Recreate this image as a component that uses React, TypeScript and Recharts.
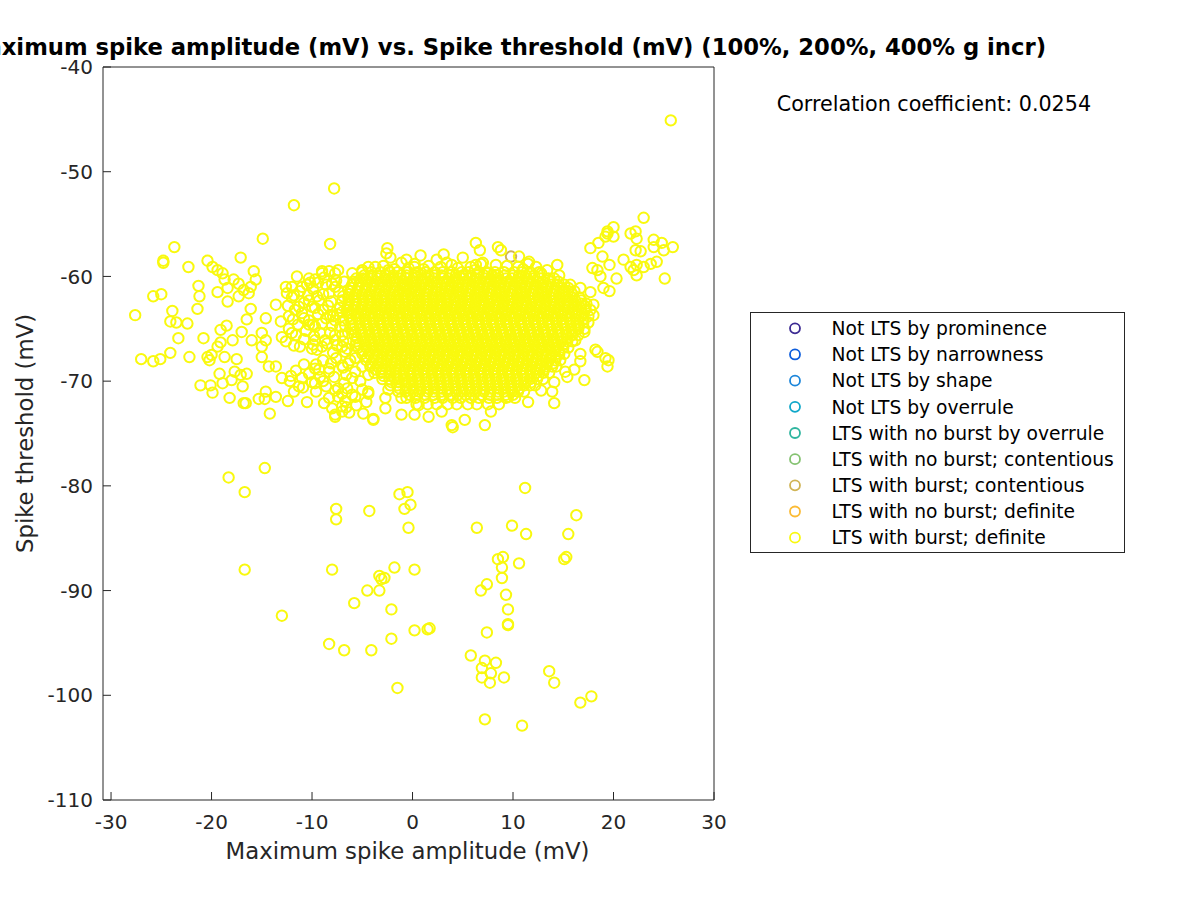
import React from 'react';
import { ScatterChart, Scatter, XAxis, YAxis } from 'recharts';

const FONT = '"DejaVu Sans", sans-serif';
const AXIS_COLOR = '#262626';

const categoryNames = [
  'Not LTS by prominence',
  'Not LTS by narrowness',
  'Not LTS by shape',
  'Not LTS by overrule',
  'LTS with no burst by overrule',
  'LTS with no burst; contentious',
  'LTS with burst; contentious',
  'LTS with no burst; definite',
  'LTS with burst; definite',
];
const categoryColors = [
  '#3c2a92', '#0d5ddc', '#1c86da', '#0ea7c9', '#2fb59f',
  '#84c270', '#d0b455', '#fbbb35', '#f9f90e',
];

const xTicks = [-30, -20, -10, 0, 10, 20, 30];
const yTicks = [-110, -100, -90, -80, -70, -60, -50, -40];

// [amplitude, threshold] pairs, read point by point where the rings are separate
const farPts: [number, number][] = [
  [25.7, -45.1], [-7.8, -51.6], [-11.8, -53.2], [23.0, -54.4],
];

const upperRightPts: [number, number][] = [
  [17.7, -57.3], [18.5, -56.8], [19.4, -55.9], [20.0, -55.3], [20.0, -56.2], [18.4, -59.4], [19.6, -58.9],
  [20.3, -60.2], [19.0, -61.1], [19.6, -61.4], [21.7, -55.9], [22.2, -55.7], [22.3, -56.4], [24.0, -56.5],
  [24.8, -56.8], [25.9, -57.2], [22.2, -57.5], [22.7, -57.6], [24.0, -57.2], [25.0, -57.5], [21.0, -58.4],
  [21.7, -59.1], [22.3, -58.9], [23.0, -59.1], [23.7, -58.8], [24.3, -58.6], [22.3, -59.9], [22.0, -59.4],
  [25.1, -60.2], [17.9, -59.2], [18.9, -58.1], [19.2, -56.2], [19.4, -55.7], [18.7, -60.0],
];

const leftPts: [number, number][] = [
  [-14.9, -56.4], [-8.2, -56.9], [-23.7, -57.2], [-24.8, -58.5], [-24.8, -58.7], [-22.3, -59.1], [-20.4, -58.5],
  [-17.1, -58.2], [-15.8, -59.5], [-15.6, -60.3], [-27.6, -63.7], [-25.8, -61.9], [-25.0, -61.7], [-23.9, -63.3],
  [-24.1, -64.3], [-23.5, -64.4], [-22.4, -64.5], [-23.3, -65.9], [-21.4, -63.1], [-21.2, -61.9], [-21.3, -60.9],
  [-20.8, -65.9], [-27.0, -67.9], [-25.8, -68.1], [-25.1, -67.9], [-24.1, -67.3], [-22.2, -67.7], [-21.1, -70.4],
  [-20.1, -70.4], [-19.9, -71.1], [-19.1, -65.1], [-18.5, -64.7], [-20.4, -67.7], [-20.2, -68.0], [-20.0, -67.5],
  [-19.4, -66.7], [-19.1, -66.3], [-19.2, -69.3], [-18.9, -70.2], [-18.2, -71.6], [-18.0, -69.9], [-17.7, -69.1],
  [-17.1, -69.4], [-16.8, -72.1], [-16.6, -72.1], [-16.5, -69.3], [-16.9, -70.5], [-17.5, -67.9], [-18.7, -67.7],
  [-17.9, -66.1], [-17.0, -65.3], [-16.5, -64.1], [-16.1, -63.1], [-16.0, -66.1], [-15.3, -71.7], [-14.6, -71.0],
  [-14.7, -71.7], [-14.2, -73.1], [-13.6, -71.5], [-12.4, -71.9], [-11.3, -70.5], [-13.0, -69.7], [-12.1, -69.5],
  [-11.0, -69.7], [-15.0, -67.7], [-15.0, -66.7], [-14.6, -66.1], [-15.0, -65.4], [-14.6, -64.0], [-14.3, -68.6],
  [-13.6, -68.6], [-13.6, -62.7], [-13.1, -64.3], [-13.0, -65.8], [-12.6, -66.2], [-12.0, -65.4], [-11.8, -66.6],
  [-11.2, -66.7], [-19.9, -59.1], [-19.4, -59.4], [-18.9, -59.7], [-18.7, -60.3], [-19.4, -61.5], [-18.4, -61.1],
  [-17.8, -60.3], [-17.3, -60.7], [-18.4, -62.4], [-17.3, -61.9], [-16.3, -61.6], [-16.1, -61.0], [-16.8, -61.3],
  [-12.5, -61.6], [-12.0, -61.0], [-11.0, -61.0], [-10.3, -60.2], [-9.7, -60.3], [-9.0, -59.7], [-8.3, -59.5],
  [-7.7, -59.7], [-6.4, -63.5], [-12.3, -63.8], [-11.7, -63.2], [-11.0, -63.5], [-10.3, -64.2], [-9.7, -64.8],
  [-9.0, -64.5], [-7.7, -64.2], [-10.3, -62.3], [-9.3, -62.3], [-8.3, -61.6], [-7.0, -62.3], [-7.7, -61.0],
  [-6.4, -61.3], [-9.7, -66.1], [-9.0, -66.7], [-7.7, -66.1], [-6.4, -65.4], [-7.0, -66.7], [-10.3, -69.3],
  [-9.3, -68.9], [-8.3, -68.8], [-9.7, -70.2], [-7.7, -70.9], [-7.0, -71.2], [-7.0, -72.4], [-7.7, -73.4],
  [-5.7, -71.5], [-3.9, -73.7], [-2.7, -72.6], [-4.4, -71.2], [-2.4, -70.8], [-6.4, -68.3], [-5.0, -68.6],
  [-5.0, -59.4], [-3.7, -59.1], [-2.4, -59.4], [-1.1, -58.7], [0.2, -59.1], [-2.5, -57.3], [-2.6, -57.8],
  [-2.2, -58.2], [-11.5, -60.0], [-10.2, -60.6], [-8.8, -60.1], [-7.6, -60.4], [-12.6, -61.0], [-11.2, -61.4],
  [-9.9, -61.2], [-8.6, -60.8], [-7.3, -61.5], [-12.0, -62.0], [-10.8, -62.5], [-9.5, -61.9], [-8.1, -62.4],
  [-7.2, -63.0], [-11.3, -62.9], [-8.9, -63.2], [-7.5, -63.6], [-11.9, -64.1], [-10.8, -64.0], [-8.6, -64.0],
  [-7.2, -64.8], [-12.3, -65.0], [-10.6, -65.2], [-9.2, -65.4], [-7.0, -65.6], [-10.8, -66.0], [-8.5, -66.4],
  [-6.9, -66.2], [-9.5, -67.0], [-7.9, -67.3], [-6.5, -66.9], [-8.9, -68.0], [-7.6, -67.8], [-6.2, -68.0],
  [-11.6, -69.0], [-10.8, -68.4], [-6.6, -69.4], [-12.2, -70.0], [-8.9, -70.0], [-6.8, -70.2], [-5.2, -70.0],
  [-11.8, -71.0], [-9.6, -71.0], [-8.3, -71.6], [-5.0, -70.8], [-10.5, -72.0], [-8.8, -72.1], [-5.6, -72.3],
  [-4.6, -72.0], [-6.3, -73.0], [-4.9, -73.1], [-9.4, -60.6], [-8.0, -60.7], [-6.8, -60.5], [-11.8, -61.8],
  [-10.4, -61.8], [-8.9, -61.7], [-6.9, -61.9], [-12.4, -62.8], [-10.0, -62.9], [-8.4, -62.8], [-7.0, -63.4],
  [-9.4, -63.6], [-8.2, -63.7], [-6.9, -64.2], [-11.4, -64.6], [-9.9, -64.6], [-8.0, -64.7], [-6.7, -64.7],
  [-11.6, -65.6], [-9.8, -65.7], [-8.2, -65.4], [-9.9, -66.5], [-7.5, -66.6], [-9.6, -68.4], [-8.1, -68.3],
  [-6.9, -68.7], [-9.2, -69.6], [-7.8, -69.6], [-6.0, -69.7], [-10.9, -70.6], [-8.6, -70.5], [-6.5, -70.7],
  [-7.4, -71.5], [-6.7, -71.9], [-8.0, -72.6], [-6.6, -72.5],
];

const edgePts: [number, number][] = [
  [-0.6, -58.4], [0.2, -58.8], [2.4, -58.4], [3.4, -58.7], [4.5, -59.2], [0.8, -58.0], [1.6, -59.0], [3.1, -57.9],
  [-1.8, -59.3], [5.0, -58.2], [-7.9, -63.8], [-7.7, -65.6], [-8.7, -66.1], [-10.0, -66.9], [-10.3, -64.6],
  [-9.7, -63.0], [-10.5, -60.8], [-9.0, -59.5], [-7.4, -59.4], [-6.0, -59.7], [-4.4, -59.1], [-4.7, -60.3],
  [-6.0, -65.0], [-5.7, -66.6], [-6.7, -67.2], [-5.7, -67.8], [-9.7, -68.8], [-8.3, -69.1], [-7.0, -68.5],
  [-5.7, -69.1], [-4.4, -69.4], [-3.1, -69.1], [-1.8, -69.7], [-0.4, -70.1], [-10.0, -70.1], [-7.4, -70.7],
  [-6.0, -71.3], [-4.4, -71.0], [-2.7, -71.6], [-1.1, -71.6], [0.6, -72.3], [-7.7, -73.2], [-7.0, -72.9],
  [-3.9, -73.6], [-1.1, -73.2], [0.2, -73.2], [1.6, -73.4], [2.9, -72.9], [3.9, -74.2], [6.3, -56.8],
  [6.7, -57.5], [8.5, -57.2], [8.8, -57.5], [10.6, -58.1], [11.6, -58.6], [10.5, -59.1], [6.3, -58.9],
  [7.0, -58.7], [5.3, -59.9], [7.5, -59.7], [12.8, -59.7], [14.4, -58.9], [14.6, -59.9], [15.7, -60.8],
  [16.7, -61.1], [17.7, -61.5], [18.0, -62.7], [18.0, -63.7], [17.1, -65.3], [16.2, -66.1], [16.7, -67.4],
  [16.7, -68.1], [15.2, -69.1], [17.1, -69.9], [14.1, -70.1], [13.9, -71.0], [14.1, -72.1], [11.5, -72.0],
  [7.8, -72.9], [7.2, -74.2], [18.4, -67.2], [19.2, -67.8], [19.4, -68.6], [4.0, -74.4], [5.2, -73.7],
  [9.5, -71.5], [12.8, -70.9], [15.4, -69.6], [16.1, -68.9], [18.2, -67.0], [19.5, -68.0], [11.5, -58.8],
  [6.8, -58.8], [7.4, -59.7], [6.2, -59.4], [-2.9, -59.0], [-0.4, -59.2], [1.1, -59.3], [2.8, -59.1],
  [3.9, -58.9], [5.8, -59.1], [8.3, -58.9], [9.4, -59.0], [11.0, -59.3], [12.3, -59.1], [13.4, -59.4],
];

const lowerPts: [number, number][] = [
  [-18.3, -79.2], [-14.7, -78.3], [-16.7, -80.6], [-7.6, -82.2], [-7.6, -83.2], [-4.3, -82.4], [-1.3, -80.8],
  [-0.5, -80.6], [-0.2, -81.8], [-0.8, -82.2], [-0.4, -84.0], [11.2, -80.2], [16.3, -82.8], [15.5, -84.6],
  [6.4, -84.0], [9.9, -83.8], [11.3, -84.6], [-16.7, -88.0], [-8.0, -88.0], [-1.8, -87.8], [0.2, -88.0],
  [-3.3, -88.6], [-2.8, -88.8], [-3.1, -88.9], [-4.5, -90.0], [-3.3, -90.0], [-5.8, -91.2], [-2.1, -91.8],
  [-13.0, -92.4], [0.2, -93.8], [1.5, -93.7], [1.7, -93.6], [-2.1, -94.6], [-8.3, -95.1], [-6.8, -95.7],
  [-4.1, -95.7], [-1.5, -99.3], [8.5, -87.0], [9.0, -86.8], [8.9, -87.8], [8.9, -88.8], [10.6, -87.4],
  [15.1, -87.0], [15.3, -86.8], [6.8, -90.0], [7.4, -89.4], [9.3, -90.4], [9.5, -91.8], [9.5, -93.2],
  [9.5, -93.3], [7.4, -94.0], [5.8, -96.2], [7.2, -96.7], [8.3, -96.9], [6.9, -97.4], [7.8, -97.9],
  [6.9, -98.3], [7.7, -98.8], [9.1, -98.3], [13.6, -97.7], [14.1, -98.8], [16.7, -100.7], [17.8, -100.1],
  [7.2, -102.3], [10.9, -102.9],
];

// dense core: rings overlap into a solid block, so it is read row by row (threshold -> amplitudes)
const coreThr = [
  -59.6, -60.2, -60.8, -61.4, -62.0, -62.6, -63.2, -63.8, -64.4, -65.0, -65.6,
  -66.2, -66.8, -67.4, -68.0, -68.6, -69.2, -69.8, -70.4, -71.0, -71.6, -72.2,
];
const coreAmp: number[][] = [
  [-5.0, -4.1, -3.2, -2.3, -1.5, -0.5, 0.5, 1.3, 2.2, 3.0, 3.9, 4.9, 5.6, 6.6, 7.4, 8.2, 9.1, 10.1, 10.9, 11.7, 12.6],
  [-5.6, -4.9, -4.1, -3.4, -2.7, -1.9, -1.3, -0.6, 0.1, 0.9, 1.5, 2.2, 3.0, 3.6, 4.3, 5.1, 5.7, 6.4, 7.2, 7.8, 8.5, 9.3, 9.9, 10.6, 11.4, 12.0, 12.7, 13.5, 14.1],
  [-6.0, -5.3, -4.5, -3.8, -3.0, -2.4, -1.7, -0.9, -0.3, 0.4, 1.2, 1.8, 2.5, 3.3, 3.9, 4.6, 5.4, 6.0, 6.7, 7.5, 8.1, 8.8, 9.6, 10.2, 10.9, 11.7, 12.3, 13.0, 13.8, 14.4, 15.1],
  [-6.2, -5.5, -4.7, -4.1, -3.3, -2.7, -1.9, -1.3, -0.6, 0.2, 0.8, 1.5, 2.3, 2.9, 3.6, 4.4, 5.0, 5.7, 6.5, 7.1, 7.8, 8.6, 9.2, 9.9, 10.7, 11.3, 12.0, 12.8, 13.4, 14.1, 14.9, 15.5, 16.1],
  [-6.4, -5.8, -5.0, -4.4, -3.6, -3.0, -2.2, -1.6, -0.9, -0.1, 0.5, 1.2, 2.0, 2.6, 3.3, 4.1, 4.7, 5.4, 6.2, 6.8, 7.5, 8.3, 8.9, 9.6, 10.4, 11.0, 11.7, 12.5, 13.1, 13.8, 14.6, 15.2, 15.9, 16.6],
  [-6.4, -5.6, -4.9, -4.1, -3.5, -2.7, -2.1, -1.3, -0.7, 0.1, 0.7, 1.5, 2.1, 2.9, 3.5, 4.3, 4.9, 5.7, 6.3, 7.1, 7.7, 8.5, 9.1, 9.9, 10.5, 11.3, 11.9, 12.7, 13.3, 14.1, 14.7, 15.5, 16.1, 16.8, 17.3],
  [-6.5, -5.9, -5.1, -4.5, -3.7, -3.1, -2.3, -1.7, -0.9, -0.3, 0.5, 1.1, 1.9, 2.5, 3.3, 3.9, 4.7, 5.3, 6.1, 6.7, 7.5, 8.1, 8.9, 9.5, 10.3, 10.9, 11.7, 12.3, 13.1, 13.7, 14.5, 15.1, 15.9, 16.5, 17.2, 17.7],
  [-6.3, -5.6, -4.8, -4.2, -3.4, -2.8, -2.0, -1.4, -0.6, 0.0, 0.8, 1.4, 2.2, 2.8, 3.6, 4.2, 5.0, 5.6, 6.4, 7.0, 7.8, 8.4, 9.2, 9.8, 10.6, 11.2, 12.0, 12.6, 13.4, 14.0, 14.8, 15.4, 16.2, 16.8, 17.5],
  [-6.1, -5.3, -4.7, -3.9, -3.3, -2.5, -1.9, -1.1, -0.5, 0.3, 0.9, 1.7, 2.3, 3.1, 3.7, 4.5, 5.1, 5.9, 6.5, 7.3, 7.9, 8.7, 9.3, 10.1, 10.7, 11.5, 12.1, 12.9, 13.5, 14.3, 14.9, 15.7, 16.3, 17.0, 17.5],
  [-6.0, -5.2, -4.4, -3.8, -3.0, -2.4, -1.6, -1.0, -0.2, 0.4, 1.2, 1.8, 2.6, 3.2, 4.0, 4.6, 5.4, 6.0, 6.8, 7.4, 8.2, 8.8, 9.6, 10.2, 11.0, 11.6, 12.4, 13.0, 13.8, 14.4, 15.2, 15.8, 16.5, 17.1],
  [-5.8, -5.1, -4.3, -3.7, -2.9, -2.3, -1.5, -0.9, -0.1, 0.5, 1.3, 1.9, 2.7, 3.3, 4.1, 4.7, 5.5, 6.1, 6.9, 7.5, 8.3, 8.9, 9.7, 10.3, 11.1, 11.7, 12.5, 13.1, 13.9, 14.5, 15.3, 15.9, 16.5],
  [-5.6, -4.8, -4.2, -3.4, -2.8, -2.0, -1.4, -0.6, 0.0, 0.8, 1.4, 2.2, 2.8, 3.6, 4.2, 5.0, 5.6, 6.4, 7.0, 7.8, 8.4, 9.2, 9.8, 10.6, 11.2, 12.0, 12.6, 13.4, 14.0, 14.8, 15.4, 15.9],
  [-5.4, -4.6, -3.9, -3.1, -2.5, -1.7, -1.1, -0.3, 0.3, 1.1, 1.7, 2.5, 3.1, 3.9, 4.5, 5.3, 5.9, 6.7, 7.3, 8.1, 8.7, 9.5, 10.1, 10.9, 11.5, 12.3, 12.9, 13.7, 14.3, 15.0, 15.5],
  [-5.0, -4.3, -3.5, -2.9, -2.1, -1.5, -0.7, -0.1, 0.7, 1.3, 2.1, 2.7, 3.5, 4.1, 4.9, 5.5, 6.3, 6.9, 7.7, 8.3, 9.1, 9.7, 10.5, 11.1, 11.9, 12.5, 13.3, 13.9, 14.6, 15.1],
  [-4.6, -3.9, -3.1, -2.5, -1.7, -1.1, -0.3, 0.3, 1.1, 1.7, 2.5, 3.1, 3.9, 4.5, 5.3, 5.9, 6.7, 7.3, 8.1, 8.7, 9.5, 10.1, 10.9, 11.5, 12.3, 12.9, 13.6, 14.2, 14.7],
  [-4.2, -3.5, -2.7, -2.1, -1.3, -0.7, 0.1, 0.7, 1.5, 2.1, 2.9, 3.5, 4.3, 4.9, 5.7, 6.3, 7.1, 7.7, 8.5, 9.1, 9.9, 10.5, 11.3, 11.9, 12.7, 13.3, 13.9, 14.3],
  [-3.8, -3.1, -2.3, -1.7, -0.9, -0.3, 0.5, 1.1, 1.9, 2.5, 3.3, 3.9, 4.7, 5.3, 6.1, 6.7, 7.5, 8.1, 8.9, 9.5, 10.3, 10.9, 11.7, 12.3, 13.0, 13.6],
  [-3.0, -2.3, -1.5, -0.9, -0.1, 0.5, 1.3, 1.9, 2.7, 3.3, 4.1, 4.7, 5.5, 6.1, 6.9, 7.5, 8.3, 8.9, 9.7, 10.3, 11.1, 11.7, 12.4, 13.0],
  [-2.2, -1.5, -0.7, -0.1, 0.7, 1.3, 2.1, 2.7, 3.5, 4.1, 4.9, 5.5, 6.3, 6.9, 7.7, 8.3, 9.1, 9.7, 10.5, 11.1, 11.7, 12.2],
  [-1.4, -0.7, 0.1, 0.7, 1.5, 2.1, 2.9, 3.5, 4.3, 4.9, 5.7, 6.3, 7.1, 7.7, 8.5, 9.1, 9.9, 10.5, 11.1],
  [-0.6, 0.3, 1.2, 2.2, 3.0, 4.0, 4.8, 5.8, 6.6, 7.6, 8.4, 9.3, 10.2],
  [0.4, 1.5, 2.4, 3.5, 4.4, 5.5, 6.4, 7.5, 8.6],
];

// more rings sitting between the rows above (the core reads as a solid yellow block)
const coreMidThr = [
  -59.9, -60.5, -61.1, -61.7, -62.3, -62.9, -63.5, -64.1, -64.7, -65.3,
  -65.9, -66.5, -67.1, -67.7, -68.3, -68.9, -69.5, -70.1, -70.7, -71.3,
];
const coreMidAmp: number[][] = [
  [-4.8, -4.1, -3.5, -2.7, -1.9, -1.2, -0.6, 0.2, 0.9, 1.6, 2.2, 2.9, 3.7, 4.3, 5.0, 5.8, 6.4, 7.1, 7.9, 8.5, 9.2, 10.0, 10.6, 11.3, 12.1],
  [-5.9, -5.2, -4.5, -3.7, -3.0, -2.3, -1.7, -0.9, -0.2, 0.4, 1.1, 1.9, 2.5, 3.2, 4.0, 4.6, 5.3, 6.1, 6.7, 7.4, 8.2, 8.8, 9.5, 10.3, 10.9, 11.6, 12.4, 13.0, 13.7, 14.5],
  [-6.1, -5.4, -4.7, -4.0, -3.3, -2.6, -1.9, -1.2, -0.6, 0.1, 0.8, 1.6, 2.3, 2.9, 3.7, 4.4, 5.0, 5.8, 6.5, 7.1, 7.9, 8.6, 9.2, 10.0, 10.7, 11.3, 12.1, 12.8, 13.4, 14.2, 14.9, 15.5],
  [-6.3, -5.7, -5.0, -4.3, -3.6, -2.9, -2.2, -1.5, -0.9, -0.2, 0.5, 1.3, 2.0, 2.7, 3.3, 4.0, 4.7, 5.5, 6.2, 6.8, 7.6, 8.3, 8.9, 9.7, 10.4, 11.0, 11.8, 12.5, 13.1, 13.9, 14.6, 15.2, 15.9],
  [-6.3, -5.6, -4.8, -4.1, -3.4, -2.7, -2.0, -1.3, -0.6, 0.1, 0.8, 1.5, 2.2, 2.9, 3.6, 4.3, 5.0, 5.7, 6.4, 7.1, 7.8, 8.5, 9.2, 9.9, 10.6, 11.3, 12.0, 12.7, 13.4, 14.1, 14.8, 15.5, 16.2, 16.8],
  [-6.4, -5.8, -5.1, -4.4, -3.7, -3.0, -2.3, -1.6, -0.9, -0.2, 0.5, 1.2, 1.9, 2.6, 3.3, 4.0, 4.7, 5.4, 6.1, 6.8, 7.5, 8.2, 8.9, 9.6, 10.3, 11.0, 11.7, 12.4, 13.1, 13.8, 14.5, 15.2, 15.9, 16.6, 17.2],
  [-6.2, -5.5, -4.8, -4.1, -3.4, -2.7, -2.0, -1.3, -0.6, 0.1, 0.8, 1.5, 2.2, 2.9, 3.6, 4.3, 5.0, 5.7, 6.4, 7.1, 7.8, 8.5, 9.2, 9.9, 10.6, 11.3, 12.0, 12.7, 13.4, 14.1, 14.8, 15.5, 16.2, 16.9],
  [-6.0, -5.3, -4.6, -3.9, -3.2, -2.5, -1.8, -1.1, -0.4, 0.3, 1.0, 1.7, 2.4, 3.1, 3.8, 4.5, 5.2, 5.9, 6.6, 7.3, 8.0, 8.7, 9.4, 10.1, 10.8, 11.5, 12.2, 12.9, 13.6, 14.3, 15.0, 15.7, 16.4, 17.0],
  [-5.9, -5.2, -4.5, -3.8, -3.1, -2.4, -1.7, -1.0, -0.3, 0.4, 1.1, 1.8, 2.5, 3.2, 3.9, 4.6, 5.3, 6.0, 6.7, 7.4, 8.1, 8.8, 9.5, 10.2, 10.9, 11.6, 12.3, 13.0, 13.7, 14.4, 15.1, 15.8, 16.5],
  [-5.7, -5.0, -4.3, -3.6, -2.9, -2.2, -1.5, -0.8, -0.1, 0.6, 1.3, 2.0, 2.7, 3.4, 4.1, 4.8, 5.5, 6.2, 6.9, 7.6, 8.3, 9.0, 9.7, 10.4, 11.1, 11.8, 12.5, 13.2, 13.9, 14.6, 15.3, 15.9],
  [-5.5, -4.8, -4.1, -3.4, -2.7, -2.0, -1.3, -0.6, 0.1, 0.8, 1.5, 2.2, 2.9, 3.6, 4.3, 5.0, 5.7, 6.4, 7.1, 7.8, 8.5, 9.2, 9.9, 10.6, 11.3, 12.0, 12.7, 13.4, 14.1, 14.8, 15.4],
  [-5.3, -4.6, -3.9, -3.2, -2.5, -1.8, -1.1, -0.4, 0.3, 1.0, 1.7, 2.4, 3.1, 3.8, 4.5, 5.2, 5.9, 6.6, 7.3, 8.0, 8.7, 9.4, 10.1, 10.8, 11.5, 12.2, 12.9, 13.6, 14.3, 15.0],
  [-4.9, -4.2, -3.5, -2.8, -2.1, -1.4, -0.7, 0.0, 0.7, 1.4, 2.1, 2.8, 3.5, 4.2, 4.9, 5.6, 6.3, 7.0, 7.7, 8.4, 9.1, 9.8, 10.5, 11.2, 11.9, 12.6, 13.3, 14.0, 14.6],
  [-4.5, -3.8, -3.1, -2.4, -1.7, -1.0, -0.3, 0.4, 1.1, 1.8, 2.5, 3.2, 3.9, 4.6, 5.3, 6.0, 6.7, 7.4, 8.1, 8.8, 9.5, 10.2, 10.9, 11.6, 12.3, 13.0, 13.7, 14.3],
  [-4.1, -3.4, -2.7, -2.0, -1.3, -0.6, 0.1, 0.8, 1.5, 2.2, 2.9, 3.6, 4.3, 5.0, 5.7, 6.4, 7.1, 7.8, 8.5, 9.2, 9.9, 10.6, 11.3, 12.0, 12.7, 13.4, 14.0],
  [-3.7, -3.0, -2.3, -1.6, -0.9, -0.2, 0.5, 1.2, 1.9, 2.6, 3.3, 4.0, 4.7, 5.4, 6.1, 6.8, 7.5, 8.2, 8.9, 9.6, 10.3, 11.0, 11.7, 12.4, 13.1],
  [-2.9, -2.2, -1.5, -0.8, -0.1, 0.6, 1.3, 2.0, 2.7, 3.4, 4.1, 4.8, 5.5, 6.2, 6.9, 7.6, 8.3, 9.0, 9.7, 10.4, 11.1, 11.8, 12.5],
  [-2.1, -1.4, -0.7, 0.0, 0.7, 1.4, 2.1, 2.8, 3.5, 4.2, 4.9, 5.6, 6.3, 7.0, 7.7, 8.4, 9.1, 9.8, 10.5, 11.2, 11.8],
  [-1.3, -0.6, 0.1, 0.8, 1.5, 2.2, 2.9, 3.6, 4.3, 5.0, 5.7, 6.4, 7.1, 7.8, 8.5, 9.2, 9.9, 10.6],
  [-0.3, 0.5, 1.3, 2.1, 2.9, 3.7, 4.5, 5.3, 6.1, 6.9, 7.7, 8.5, 9.3, 10.0],
];

// the one ring of "LTS with burst; contentious" peeking out from under the yellow
const contentiousPts: [number, number][] = [[9.8, -58.1]];

type Pt = { x: number; y: number };
const toPts = (list: [number, number][]): Pt[] => list.map(([x, y]) => ({ x, y }));
const rowsToPts = (thr: number[], amp: number[][]): Pt[] =>
  thr.flatMap((t, i) => amp[i].map((a) => ({ x: a, y: t })));

const definitePts: Pt[] = [
  ...toPts(leftPts),
  ...rowsToPts(coreThr, coreAmp),
  ...rowsToPts(coreMidThr, coreMidAmp),
  ...toPts(edgePts),
  ...toPts(upperRightPts),
  ...toPts(farPts),
  ...toPts(lowerPts),
];

const seriesData: Pt[][] = categoryNames.map((_, i) => {
  if (i === 6) return toPts(contentiousPts);
  if (i === 8) return definitePts;
  return [];
});

const ring = (color: string) => (props: any) => {
  if (props.cx == null || props.cy == null) return <g />;
  return <circle cx={props.cx} cy={props.cy} r={5.2} fill="none" stroke={color} strokeWidth={2} />;
};

const tickStyle = { fill: AXIS_COLOR, fontSize: 20, fontFamily: FONT };

export default function App() {
  return (
    <div style={{ position: 'absolute', left: 0, top: 0, width: 1200, height: 900, background: '#fff' }}>
      <ScatterChart width={1200} height={900} margin={{ top: 57, right: 476, bottom: 40, left: 0 }}>
        <XAxis
          xAxisId="b"
          type="number"
          dataKey="x"
          domain={[-30.8, 30]}
          ticks={xTicks}
          interval={0}
          height={60}
          tick={tickStyle}
          tickSize={-8}
          tickMargin={23}
          axisLine={{ stroke: AXIS_COLOR }}
          tickLine={{ stroke: AXIS_COLOR }}
          allowDataOverflow
        />
        <XAxis
          xAxisId="t"
          orientation="top"
          type="number"
          dataKey="x"
          domain={[-30.8, 30]}
          ticks={xTicks}
          interval={0}
          height={10}
          tick={false}
          tickSize={-8}
          axisLine={{ stroke: AXIS_COLOR }}
          tickLine={{ stroke: AXIS_COLOR }}
          allowDataOverflow
        />
        <YAxis
          yAxisId="l"
          type="number"
          dataKey="y"
          domain={[-110, -40]}
          ticks={yTicks}
          interval={0}
          width={103}
          tick={tickStyle}
          tickSize={-8}
          tickMargin={18}
          axisLine={{ stroke: AXIS_COLOR }}
          tickLine={{ stroke: AXIS_COLOR }}
          allowDataOverflow
        />
        <YAxis
          yAxisId="r"
          orientation="right"
          type="number"
          dataKey="y"
          domain={[-110, -40]}
          ticks={yTicks}
          interval={0}
          width={10}
          tick={false}
          tickSize={-8}
          axisLine={{ stroke: AXIS_COLOR }}
          tickLine={{ stroke: AXIS_COLOR }}
          allowDataOverflow
        />
        {categoryNames.map((name, i) => (
          <Scatter
            key={name}
            name={name}
            data={seriesData[i]}
            xAxisId={i === 6 ? 't' : 'b'}
            yAxisId={i === 6 ? 'r' : 'l'}
            shape={ring(categoryColors[i])}
            isAnimationActive={false}
          />
        ))}
      </ScatterChart>
      <svg
        width={1200}
        height={900}
        style={{ position: 'absolute', left: 0, top: 0, pointerEvents: 'none' }}
        fontFamily={FONT}
      >
        <text x={1046} y={55} textAnchor="end" fontSize={22.7} fontWeight="bold" fill="#000">
          Maximum spike amplitude (mV) vs. Spike threshold (mV) (100%, 200%, 400% g incr)
        </text>
        <text x={407.5} y={859} textAnchor="middle" fontSize={22.8} fill={AXIS_COLOR}>
          Maximum spike amplitude (mV)
        </text>
        <text transform="translate(33,433.5) rotate(-90)" textAnchor="middle" fontSize={22.8} fill={AXIS_COLOR}>
          Spike threshold (mV)
        </text>
        <text x={776.7} y={111} fontSize={20.7} fill="#000">
          Correlation coefficient: 0.0254
        </text>
        <rect x={750.5} y={312.5} width={374} height={240} fill="#fff" stroke={AXIS_COLOR} strokeWidth={1} />
        {categoryNames.map((name, i) => {
          const cy = 328.3 + i * 26.17;
          return (
            <g key={name}>
              <circle cx={795} cy={cy} r={5} fill="none" stroke={categoryColors[i]} strokeWidth={1.8} />
              <text x={831.5} y={cy + 6.7} fontSize={18.7} fill="#000">
                {name}
              </text>
            </g>
          );
        })}
      </svg>
    </div>
  );
}
